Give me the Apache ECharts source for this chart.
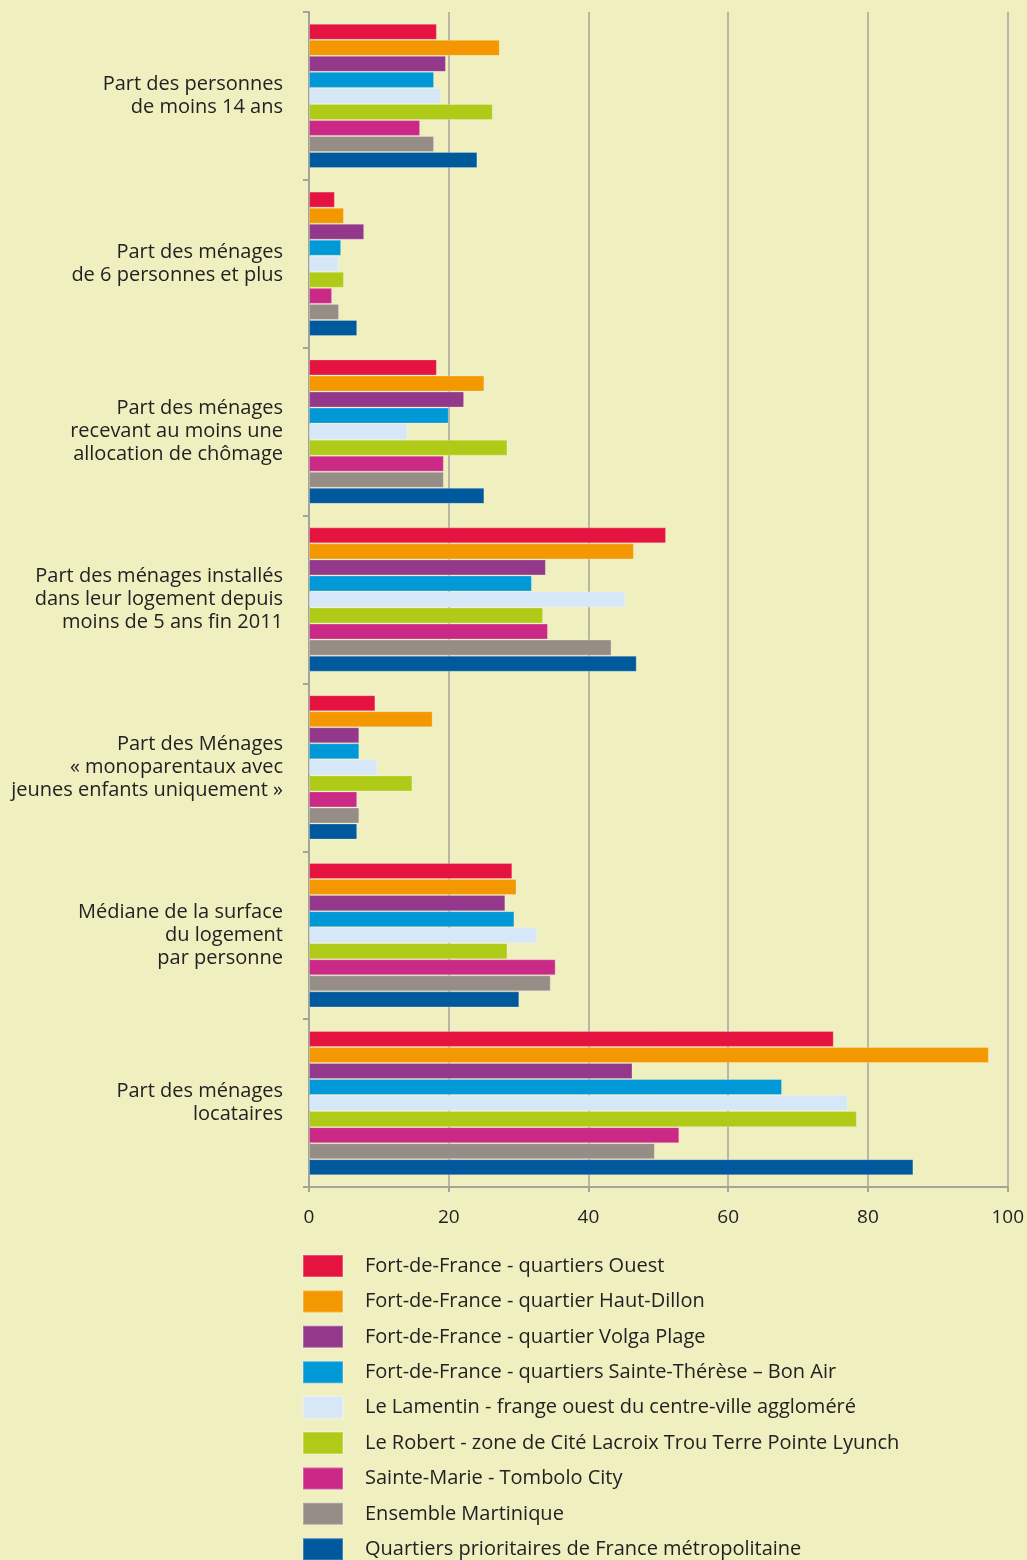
<!DOCTYPE html>
<html>
<head>
<meta charset="utf-8">
<script src="https://cdn.jsdelivr.net/npm/echarts@6/dist/echarts.min.js"></script>
<style>
  html, body { margin: 0; padding: 0; background: #f0efc0; }
  #chart { width: 1027px; height: 1560px; }
</style>
</head>
<body>
<div id="chart"></div>
<script>
// categories (top to bottom)
var categories = [
  'Part des personnes\nde moins 14 ans',
  'Part des ménages\nde 6 personnes et plus',
  'Part des ménages\nrecevant au moins une\nallocation de chômage',
  'Part des ménages installés\ndans leur logement depuis\nmoins de 5 ans fin 2011',
  'Part des Ménages\n« monoparentaux avec\njeunes enfants uniquement »',
  'Médiane de la surface\ndu logement\npar personne',
  'Part des ménages\nlocataires'
];

var seriesNames = [
  'Fort-de-France - quartiers Ouest',
  'Fort-de-France - quartier Haut-Dillon',
  'Fort-de-France - quartier Volga Plage',
  'Fort-de-France - quartiers Sainte-Thérèse – Bon Air',
  'Le Lamentin - frange ouest du centre-ville aggloméré',
  'Le Robert - zone de Cité Lacroix Trou Terre Pointe Lyunch',
  'Sainte-Marie - Tombolo City',
  'Ensemble Martinique',
  'Quartiers prioritaires de France métropolitaine'
];

var colors = ['#e5133f', '#f39800', '#93388a', '#0098d6', '#d6e7f7', '#afca17', '#ca2a86', '#968d86', '#00589d'];

// one array per series, values in category order
var fdfOuest     = [18.3, 3.7, 18.3, 51.1,  9.5, 29.1, 75.1];
var fdfHautDillon= [27.3, 5.0, 25.1, 46.5, 17.7, 29.7, 97.3];
var fdfVolga     = [19.6, 7.9, 22.2, 33.9,  7.2, 28.1, 46.3];
var fdfSteTherese= [17.9, 4.6, 20.0, 31.9,  7.2, 29.4, 67.7];
var lamentin     = [18.9, 4.3, 14.1, 45.3,  9.8, 32.7, 77.1];
var robert       = [26.3, 5.0, 28.4, 33.5, 14.8, 28.4, 78.4];
var steMarie     = [15.9, 3.3, 19.3, 34.2,  6.9, 35.3, 53.0];
var martinique   = [17.9, 4.3, 19.3, 43.3,  7.2, 34.6, 49.5];
var metropole    = [24.1, 6.9, 25.1, 46.9,  6.9, 30.1, 86.5];

var seriesData = [fdfOuest, fdfHautDillon, fdfVolga, fdfSteTherese, lamentin, robert, steMarie, martinique, metropole];

var xTicks = { min: 0, max: 100, interval: 20 };

var chart = echarts.init(document.getElementById('chart'));

var series = seriesNames.map(function (name, i) {
  return {
    name: name,
    type: 'bar',
    data: seriesData[i],
    barGap: '0%',
    barCategoryGap: '14%',
    itemStyle: {
      color: colors[i],
      borderColor: 'rgba(255,255,255,0.25)',
      borderWidth: 1
    },
    emphasis: { disabled: true }
  };
});

var option = {
  backgroundColor: '#f0efc0',
  animation: false,
  textStyle: { fontFamily: 'Open Sans' },
  grid: { left: 309, right: 14, top: 12, bottom: 373, containLabel: false },
  legend: {
    orient: 'vertical',
    left: 302,
    top: 1254,
    height: 400,
    padding: 0,
    itemWidth: 40,
    itemHeight: 22,
    itemGap: 11.4,
    icon: 'rect',
    data: seriesNames,
    textStyle: { fontSize: 20, lineHeight: 22, color: '#222', padding: [0, 0, 0, 17], fontFamily: 'Open Sans' }
  },
  xAxis: {
    type: 'value',
    min: xTicks.min,
    max: xTicks.max,
    interval: xTicks.interval,
    axisLine: { show: true, lineStyle: { color: '#a5a49a', width: 2 } },
    axisTick: { show: true, length: 5, lineStyle: { color: '#a5a49a', width: 2 } },
    axisLabel: { fontSize: 19, color: '#222', margin: 21 },
    splitLine: { show: true, lineStyle: { color: '#a5a49a', width: 1.5 } }
  },
  yAxis: {
    type: 'category',
    inverse: true,
    data: categories,
    axisLine: { show: true, lineStyle: { color: '#a5a49a', width: 2 } },
    axisTick: { show: true, length: 6, lineStyle: { color: '#a5a49a', width: 2 } },
    axisLabel: { fontSize: 20, color: '#222', lineHeight: 23, align: 'right', margin: 26 }
  },
  series: series
};

chart.setOption(option);
</script>
</body>
</html>
